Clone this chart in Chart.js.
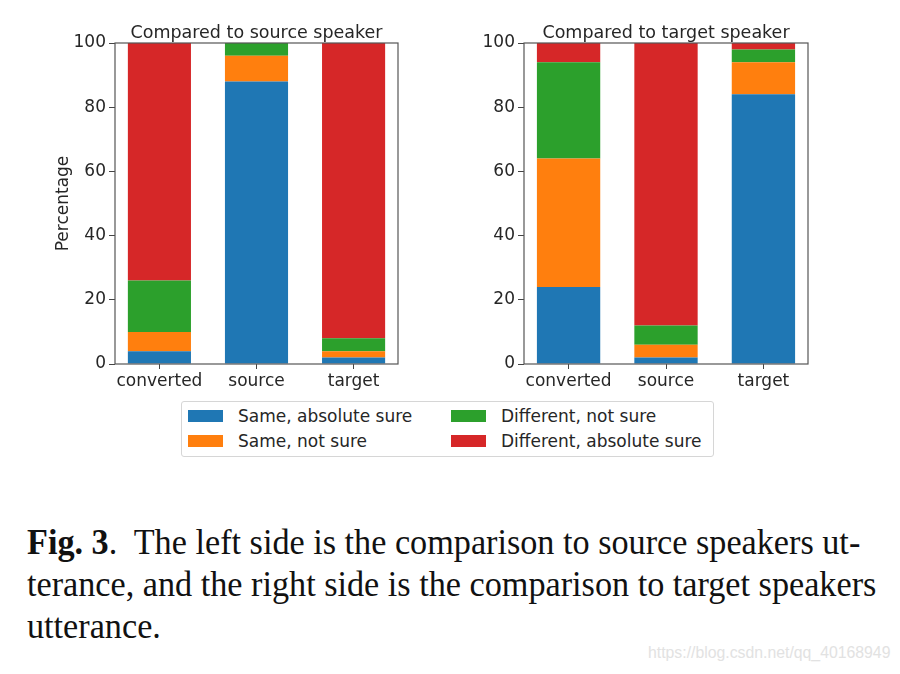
<!DOCTYPE html>
<html>
<head>
<meta charset="utf-8">
<script src="https://cdn.jsdelivr.net/npm/chart.js@4/dist/chart.umd.min.js"></script>
<style>
  body { margin: 0; background: #fff; }
  #page { position: relative; width: 900px; height: 674px; overflow: hidden; font-family: "DejaVu Sans", sans-serif; }
  canvas { position: absolute; top: 0; }
  #legend { position: absolute; left: 181px; top: 401px; width: 531px; height: 54px;
            border: 1px solid #d6d6d6; border-radius: 3px; }
  .patch { position: absolute; width: 35px; height: 12px; }
  .label { position: absolute; font-size: 17px; line-height: 20px; color: #262626; white-space: nowrap; }
  #caption { position: absolute; left: 27px; top: 521px; font-family: "Liberation Serif", serif;
             font-size: 36px; line-height: 42px; color: #111; white-space: nowrap;
             transform: scaleX(0.95); transform-origin: 0 0; }
  #mark { position: absolute; left: 648px; top: 644px; font-family: "Liberation Sans", sans-serif;
          font-size: 15.8px; color: #e2e2e2; white-space: nowrap; }
</style>
</head>
<body>
<div id="page">
  <canvas id="leftChart" width="420" height="395" style="left:0px"></canvas>
  <canvas id="rightChart" width="420" height="395" style="left:410px"></canvas>
  <div id="legend"></div>
  <div id="caption"><b>Fig. 3</b>.&nbsp; The left side is the comparison to source speakers ut-<br>terance, and the right side is the comparison to target speakers<br>utterance.</div>
  <div id="mark">https://blog.csdn.net/qq_40168949</div>
</div>
<script>
const categories = ['converted', 'source', 'target'];
const seriesNames = ['Same, absolute sure', 'Same, not sure', 'Different, not sure', 'Different, absolute sure'];
const seriesColors = ['#1f77b4', '#ff7f0e', '#2ca02c', '#d62728'];

// compared to source speaker
const srcSameSure = [4, 88, 2];
const srcSameNotSure = [6, 8, 2];
const srcDiffNotSure = [16, 4, 4];
const srcDiffSure = [74, 0, 92];

// compared to target speaker
const tgtSameSure = [24, 2, 84];
const tgtSameNotSure = [40, 4, 10];
const tgtDiffNotSure = [30, 6, 4];
const tgtDiffSure = [6, 88, 2];

const yTicks = [0, 20, 40, 60, 80, 100];

const textColor = '#262626';
const axisFont = { family: 'DejaVu Sans', size: 17, lineHeight: 1.2 };

// spines on all four sides + title centred over the plot area
const frameAndTitle = {
    id: 'frameAndTitle',
    afterDraw(chart, args, opts) {
        const ctx = chart.ctx;
        const a = chart.chartArea;
        ctx.save();
        ctx.strokeStyle = '#555';
        ctx.lineWidth = 1.2;
        ctx.strokeRect(a.left, a.top, a.right - a.left, a.bottom - a.top);
        ctx.fillStyle = textColor;
        ctx.font = '17.5px "DejaVu Sans"';
        ctx.textAlign = 'center';
        ctx.textBaseline = 'alphabetic';
        ctx.fillText(opts.text, (a.left + a.right) / 2, a.top - 5);
        ctx.restore();
    }
};

function makePanel(id, title, series, yTitle, axisWidth) {
    return new Chart(document.getElementById(id), {
        type: 'bar',
        data: {
            datasets: series.map((vals, k) => ({
                label: seriesNames[k],
                data: vals.map((v, i) => ({ x: i, y: v })),
                backgroundColor: seriesColors[k],
                borderWidth: 0,
                barPercentage: 0.65,
                categoryPercentage: 1
            }))
        },
        options: {
            responsive: false,
            animation: false,
            devicePixelRatio: 1,
            layout: { padding: { top: 43, right: 22, bottom: 0, left: 0 } },
            plugins: {
                legend: { display: false },
                tooltip: { enabled: false },
                frameAndTitle: { text: title }
            },
            scales: {
                x: {
                    type: 'linear',
                    stacked: true,
                    offset: false,
                    min: -0.4575,
                    max: 2.4575,
                    afterBuildTicks: (s) => { s.ticks = categories.map((c, i) => ({ value: i })); },
                    afterFit: (s) => { s.height = 31; },
                    grid: { drawOnChartArea: false, drawTicks: true, tickLength: 5, tickColor: '#444', offset: false },
                    border: { display: false },
                    ticks: { color: textColor, font: axisFont, padding: 2, maxRotation: 0,
                             callback: (v) => categories[v] }
                },
                y: {
                    stacked: true,
                    min: 0,
                    max: 100,
                    afterBuildTicks: (s) => { s.ticks = yTicks.map(v => ({ value: v })); },
                    afterFit: (s) => { s.width = axisWidth; },
                    grid: { drawOnChartArea: false, drawTicks: true, tickLength: 6, tickColor: '#444' },
                    border: { display: false },
                    ticks: { color: textColor, font: axisFont, padding: 3 },
                    title: { display: !!yTitle, text: yTitle, color: textColor, font: axisFont,
                             padding: { top: 53, bottom: 0 } }
                }
            }
        },
        plugins: [frameAndTitle]
    });
}

makePanel('leftChart', 'Compared to source speaker',
    [srcSameSure, srcSameNotSure, srcDiffNotSure, srcDiffSure], 'Percentage', 115);
makePanel('rightChart', 'Compared to target speaker',
    [tgtSameSure, tgtSameNotSure, tgtDiffNotSure, tgtDiffSure], '', 114);

// legend: two columns, filled column by column like matplotlib ncol=2
const legend = document.getElementById('legend');
const colX = [6, 269];
const rowY = [8, 33];
seriesNames.forEach((name, k) => {
    const col = Math.floor(k / 2), row = k % 2;
    const p = document.createElement('div');
    p.className = 'patch';
    p.style.left = colX[col] + 'px';
    p.style.top = rowY[row] + 'px';
    p.style.background = seriesColors[k];
    legend.appendChild(p);
    const t = document.createElement('div');
    t.className = 'label';
    t.style.left = (colX[col] + 50) + 'px';
    t.style.top = (rowY[row] - 4) + 'px';
    t.textContent = name;
    legend.appendChild(t);
});
</script>
</body>
</html>
